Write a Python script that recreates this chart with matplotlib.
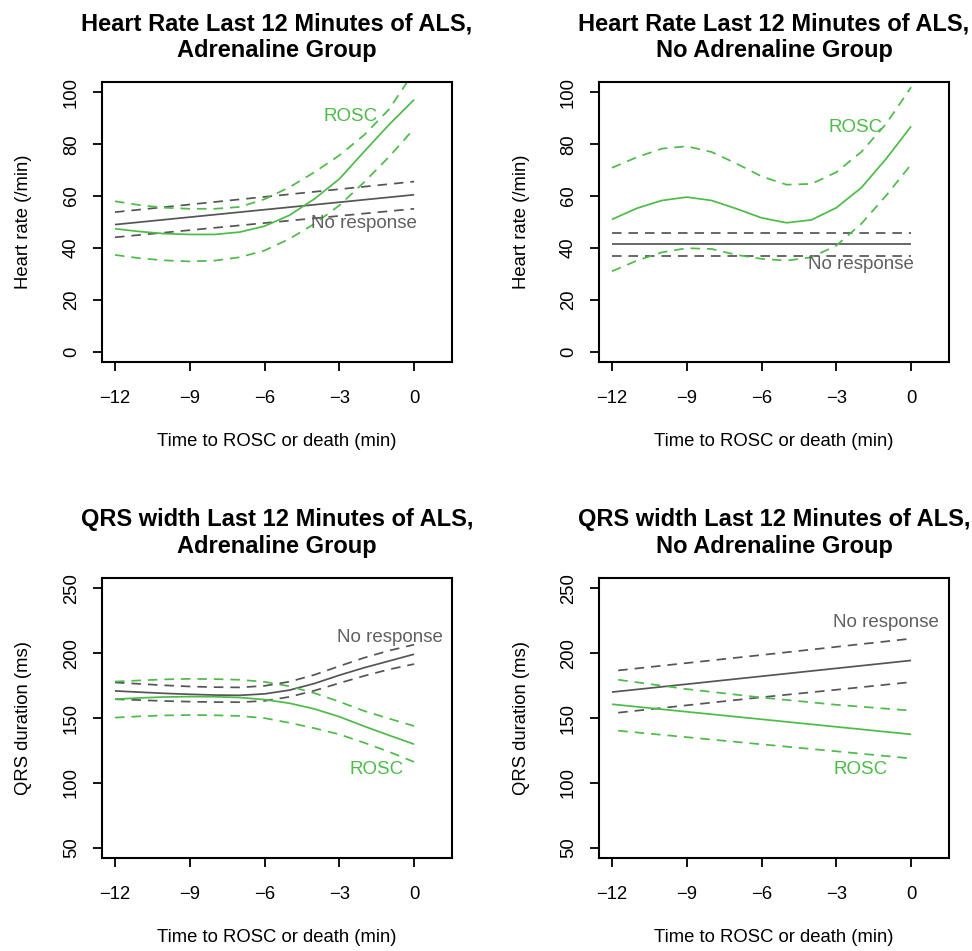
import matplotlib
matplotlib.use("Agg")
import matplotlib.pyplot as plt

plt.rcParams['font.family'] = ['Liberation Sans', 'DejaVu Sans']

# ---------------- data ----------------
minutes = [-12, -11, -10, -9, -8, -7, -6, -5, -4, -3, -2, -1, 0]
x_ticks = [-12, -9, -6, -3, 0]
x_tick_labels = ["\u221212", "\u22129", "\u22126", "\u22123", "0"]
hr_ticks = [0, 20, 40, 60, 80, 100]
qrs_ticks = [50, 100, 150, 200, 250]

# Heart rate, adrenaline group
hr_adr_rosc = [47.4, 46.3, 45.5, 45.2, 45.2, 46.1, 48.4, 52.6, 58.9, 66.6, 77.2, 87.6, 97.2]
hr_adr_rosc_hi = [58.0, 56.5, 55.5, 55.1, 55.1, 55.8, 58.8, 63.4, 69.2, 75.7, 83.6, 93.5, 108.0]
hr_adr_rosc_lo = [37.3, 36.0, 35.2, 34.8, 35.1, 36.4, 39.0, 43.5, 49.3, 56.4, 65.4, 75.2, 86.0]
hr_adr_nr_time = [-12, 0]
hr_adr_nr = [49.0, 60.5]
hr_adr_nr_hi = [53.8, 65.6]
hr_adr_nr_lo = [44.1, 55.1]

# Heart rate, no adrenaline group
hr_noadr_rosc = [51.0, 55.3, 58.3, 59.6, 58.3, 55.1, 51.6, 49.7, 50.8, 55.5, 63.2, 74.4, 86.9]
hr_noadr_rosc_hi = [70.9, 75.0, 78.3, 79.2, 77.0, 72.5, 67.6, 64.4, 64.7, 69.2, 77.0, 87.9, 102.0]
hr_noadr_rosc_lo = [31.0, 35.1, 38.3, 39.9, 39.6, 37.3, 35.8, 35.1, 36.4, 40.9, 49.3, 60.2, 72.2]
hr_noadr_nr_time = [-12, 0]
hr_noadr_nr = [41.4, 41.4]
hr_noadr_nr_hi = [45.8, 45.8]
hr_noadr_nr_lo = [36.9, 36.9]

# QRS width, adrenaline group
qrs_adr_rosc = [164.5, 165.5, 166.2, 166.5, 166.4, 165.8, 164.2, 161.4, 157.0, 151.0, 143.6, 136.6, 129.8]
qrs_adr_rosc_hi = [178.1, 179.0, 179.8, 180.2, 180.0, 179.5, 177.9, 174.5, 169.2, 162.6, 155.4, 149.5, 143.8]
qrs_adr_rosc_lo = [150.3, 151.3, 152.0, 152.3, 152.1, 151.6, 149.9, 146.3, 142.1, 137.4, 130.9, 123.9, 116.1]
qrs_adr_nr = [170.9, 169.9, 169.0, 168.3, 167.7, 167.5, 168.6, 171.5, 176.6, 183.0, 188.8, 194.0, 199.2]
qrs_adr_nr_hi = [177.4, 176.3, 175.2, 174.3, 173.8, 173.6, 174.8, 178.0, 183.3, 190.0, 196.5, 202.0, 206.6]
qrs_adr_nr_lo = [164.5, 163.8, 163.1, 162.6, 162.3, 162.2, 163.2, 166.3, 171.1, 176.9, 182.5, 187.5, 191.6]

# QRS width, no adrenaline group
qrs_noadr_time = [-12, 0]
qrs_noadr_rosc = [160.6, 137.4]
qrs_noadr_nr = [170.0, 194.4]
qrs_noadr_ci_time = [-11.75, -9, -6, -3, 0]
qrs_noadr_rosc_hi = [179.5, 172.3, 165.8, 160.2, 155.7]
qrs_noadr_rosc_lo = [140.2, 135.2, 129.7, 124.3, 118.8]
qrs_noadr_nr_hi = [186.7, 192.4, 198.6, 204.9, 211.2]
qrs_noadr_nr_lo = [154.1, 159.8, 166.0, 171.8, 177.7]

titles = [
    "Heart Rate Last 12 Minutes of ALS,\nAdrenaline Group",
    "Heart Rate Last 12 Minutes of ALS,\nNo Adrenaline Group",
    "QRS width Last 12 Minutes of ALS,\nAdrenaline Group",
    "QRS width Last 12 Minutes of ALS,\nNo Adrenaline Group",
]
x_label = "Time to ROSC or death (min)"
hr_label = "Heart rate (/min)"
qrs_label = "QRS duration (ms)"

GREEN = "#4dbb48"
GRAY = "#555555"
TEXT_GRAY = "#606060"

W, H = 972, 951
fig = plt.figure(figsize=(W / 100, H / 100), dpi=100)

def make_ax(left_px, top_px):
    return fig.add_axes([left_px / W, 1 - (top_px + 280) / H, 350 / W, 280 / H])

axes = [make_ax(102, 82), make_ax(599, 82), make_ax(102, 578), make_ax(599, 578)]

LW = 1.25
DASH = (5.5, 4.0)

def style(ax, title, ylabel, yticks, ylim):
    ax.set_xlim(-12.52, 1.52)
    ax.set_ylim(ylim[0] - 0.04 * (ylim[1] - ylim[0]), ylim[1] + 0.04 * (ylim[1] - ylim[0]))
    ax.set_xticks(x_ticks, x_tick_labels)
    ax.set_yticks(yticks, [str(v) for v in yticks])
    for s in ax.spines.values():
        s.set_linewidth(1.5)
    ax.tick_params(axis='both', length=9.5 / 1.389, width=1.3, labelsize=13.3, direction='out')
    ax.tick_params(axis='x', pad=13.5)
    ax.tick_params(axis='y', pad=9)
    for lab in ax.get_yticklabels():
        lab.set_rotation(90)
        lab.set_va('center')
    ax.set_title(title, fontsize=17, fontweight='bold', pad=18, linespacing=1.2)
    ax.set_xlabel(x_label, fontsize=13.3, va='center')
    ax.xaxis.set_label_coords(0.5, -79 / 280)
    ax.set_ylabel(ylabel, fontsize=13.3, va='center')
    ax.yaxis.set_label_coords(-78 / 350, 0.5)

def band(ax, x, mid, hi, lo, color, xci=None):
    xci = x if xci is None else xci
    ax.plot(x, mid, color=color, lw=LW, solid_capstyle='butt')
    ax.plot(xci, hi, color=color, lw=LW, linestyle=(0, DASH))
    ax.plot(xci, lo, color=color, lw=LW, linestyle=(0, DASH))

# Panel 1
ax = axes[0]
style(ax, titles[0], hr_label, hr_ticks, (0, 100))
band(ax, hr_adr_nr_time, hr_adr_nr, hr_adr_nr_hi, hr_adr_nr_lo, GRAY)
band(ax, minutes, hr_adr_rosc, hr_adr_rosc_hi, hr_adr_rosc_lo, GREEN)
ax.text(-2.54, 90.7, "ROSC", color=GREEN, fontsize=13.5, ha='center', va='center')
ax.text(-2.0, 49.4, "No response", color=TEXT_GRAY, fontsize=13.5, ha='center', va='center')

# Panel 2
ax = axes[1]
style(ax, titles[1], hr_label, hr_ticks, (0, 100))
band(ax, hr_noadr_nr_time, hr_noadr_nr, hr_noadr_nr_hi, hr_noadr_nr_lo, GRAY)
band(ax, minutes, hr_noadr_rosc, hr_noadr_rosc_hi, hr_noadr_rosc_lo, GREEN)
ax.text(-2.21, 86.6, "ROSC", color=GREEN, fontsize=13.5, ha='center', va='center')
ax.text(-2.01, 33.5, "No response", color=TEXT_GRAY, fontsize=13.5, ha='center', va='center')

# Panel 3
ax = axes[2]
style(ax, titles[2], qrs_label, qrs_ticks, (50, 250))
band(ax, minutes, qrs_adr_nr, qrs_adr_nr_hi, qrs_adr_nr_lo, GRAY)
band(ax, minutes, qrs_adr_rosc, qrs_adr_rosc_hi, qrs_adr_rosc_lo, GREEN)
ax.text(-0.96, 212.0, "No response", color=TEXT_GRAY, fontsize=13.5, ha='center', va='center')
ax.text(-1.51, 110.5, "ROSC", color=GREEN, fontsize=13.5, ha='center', va='center')

# Panel 4
ax = axes[3]
style(ax, titles[3], qrs_label, qrs_ticks, (50, 250))
band(ax, qrs_noadr_time, qrs_noadr_nr, qrs_noadr_nr_hi, qrs_noadr_nr_lo, GRAY, qrs_noadr_ci_time)
band(ax, qrs_noadr_time, qrs_noadr_rosc, qrs_noadr_rosc_hi, qrs_noadr_rosc_lo, GREEN, qrs_noadr_ci_time)
ax.text(-1.0, 223.6, "No response", color=TEXT_GRAY, fontsize=13.5, ha='center', va='center')
ax.text(-2.01, 110.5, "ROSC", color=GREEN, fontsize=13.5, ha='center', va='center')

fig.savefig("out.png", dpi=100)
